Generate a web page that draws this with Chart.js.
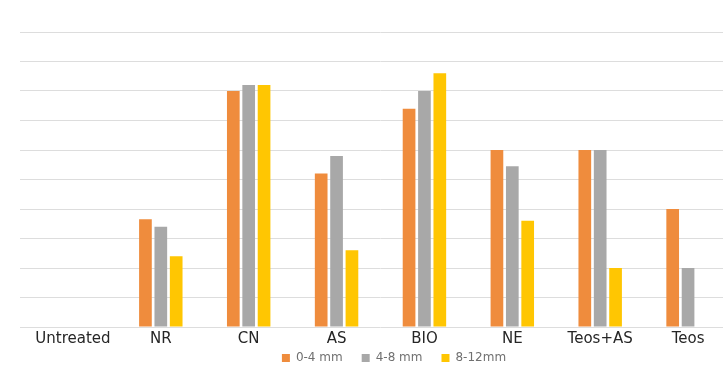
<!DOCTYPE html>
<html>
<head>
<meta charset="utf-8">
<script src="https://cdn.jsdelivr.net/npm/chart.js@4/dist/chart.umd.min.js"></script>
<style>
  html, body { margin: 0; padding: 0; background: #ffffff; overflow: hidden; }
  #wrap { width: 723px; height: 365px; overflow: hidden; position: relative; background: #fff; }
  canvas { display: block; }
</style>
</head>
<body>
<div id="wrap"><canvas id="c" width="768" height="392" style="width:768px;height:392px"></canvas></div>
<script>
const categories = ['Untreated', 'NR', 'CN', 'AS', 'BIO', 'NE', 'Teos+AS', 'Teos'];
const seriesNames = ['0-4 mm', '4-8 mm', '8-12mm'];
const values0to4 = [0, 3.65, 8.0, 5.2, 7.4, 6.0, 6.0, 4.0];
const values4to8 = [0, 3.4, 8.2, 5.8, 8.0, 5.45, 6.0, 2.0];
const values8to12 = [0, 2.4, 8.2, 2.6, 8.6, 3.6, 2.0, 0];
const yMin = 0, yMax = 10, yStep = 1;

const colors = ['#EF8C3D', '#A8A8A8', '#FFC602'];
const seriesValues = [values0to4, values4to8, values8to12];

const font = "'DejaVu Sans', 'Liberation Sans', sans-serif";

// Pull the legend up so it sits just under the category labels, as in the reference
const legendLift = {
  id: 'legendLift',
  afterLayout(chart) {
    const lg = chart.legend;
    if (lg) { lg.top -= 18; lg.bottom -= 18; }
  }
};

new Chart(document.getElementById('c'), {
  type: 'bar',
  data: {
    labels: categories,
    datasets: seriesNames.map((n, i) => ({
      label: n,
      data: seriesValues[i],
      backgroundColor: colors[i],
      borderWidth: 0,
      barPercentage: 0.825,
      categoryPercentage: 0.525
    }))
  },
  plugins: [legendLift],
  options: {
    responsive: false,
    animation: false,
    layout: { padding: { left: 20, right: 0, top: 32, bottom: 0 } },
    plugins: {
      tooltip: { enabled: false },
      legend: {
        position: 'bottom',
        labels: {
          boxWidth: 8,
          boxHeight: 8,
          padding: 19,
          color: '#707070',
          font: { family: font, size: 12 }
        }
      }
    },
    scales: {
      x: {
        grid: { display: false, drawTicks: false },
        border: { display: false },
        ticks: { color: '#262626', padding: 3, font: { family: font, size: 15 } }
      },
      y: {
        min: yMin, max: yMax,
        ticks: { display: false, stepSize: yStep },
        grid: { color: '#dddddd', lineWidth: 1, drawTicks: true, tickLength: 9 },
        border: { display: false }
      },
      y2: {
        position: 'right',
        display: true,
        grid: { display: false, drawTicks: false },
        ticks: { display: false },
        border: { display: false },
        afterFit: (s) => { s.width = 36; }
      }
    }
  }
});
</script>
</body>
</html>
